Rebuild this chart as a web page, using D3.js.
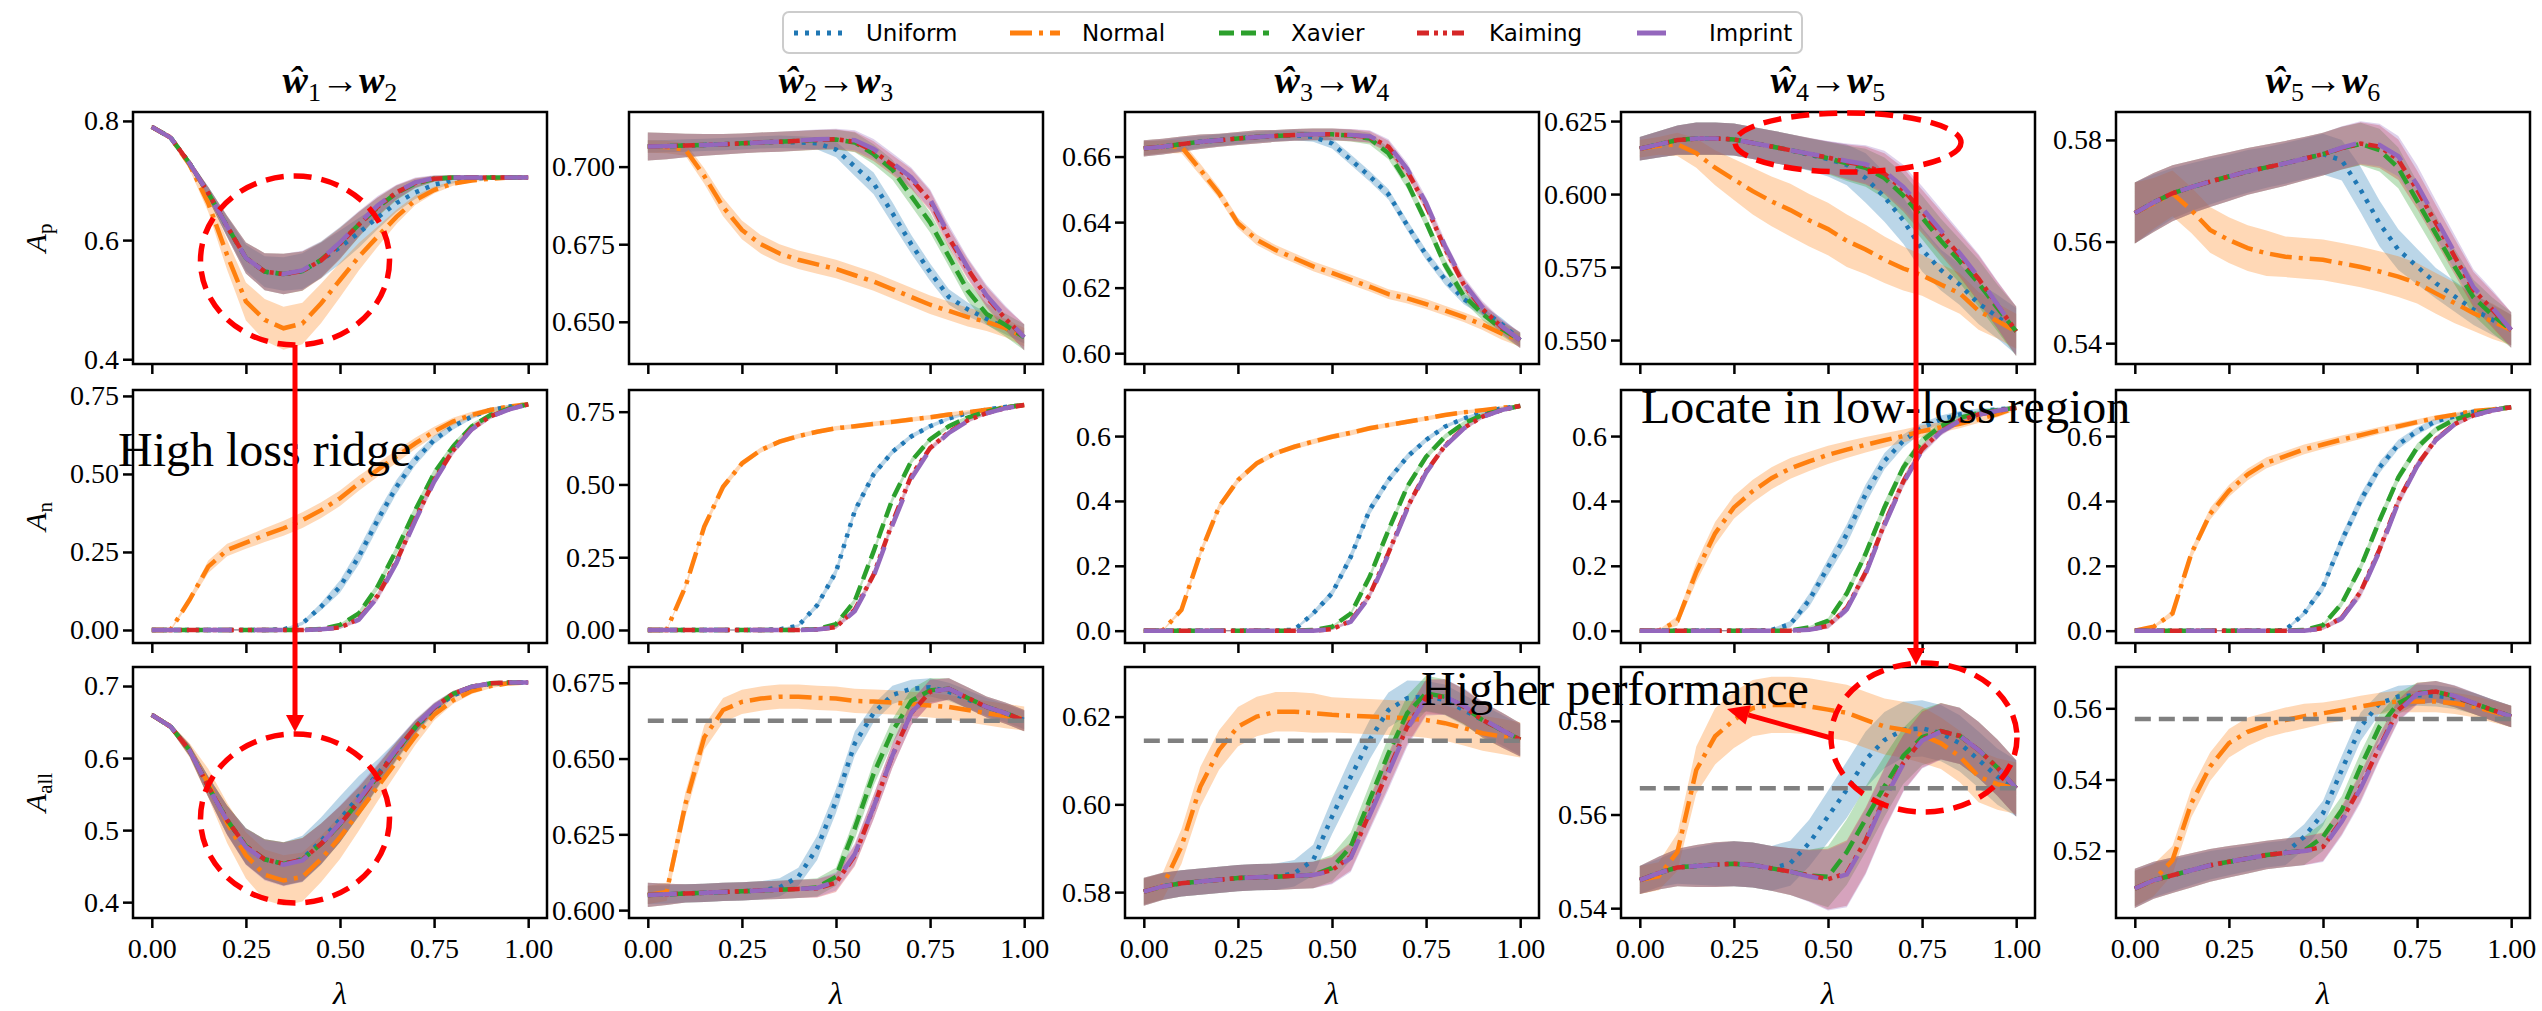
<!DOCTYPE html>
<html><head><meta charset="utf-8">
<script src="https://cdn.jsdelivr.net/npm/d3@7"></script>
<style>body{margin:0;background:#fff}svg{display:block}</style>
</head><body><svg id="c" width="2542" height="1011"></svg>
<script>
// ---------------- DATA ----------------
const lam = [0,0.05,0.1,0.15,0.2,0.25,0.3,0.35,0.4,0.45,0.5,0.55,0.6,0.65,0.7,0.75,0.8,0.85,0.9,0.95,1];
const methods = ["Uniform","Normal","Xavier","Kaiming","Imprint"];
const titleIdx = [["1","2"],["2","3"],["3","4"],["4","5"],["5","6"]];
const rowLabelSubs = ["p","n","all"];
const xTicks = [0,0.25,0.5,0.75,1];
const xTickLabels = ["0.00","0.25","0.50","0.75","1.00"];

const yTicksR1 = [[0.4,0.6,0.8],[0.65,0.675,0.7],[0.6,0.62,0.64,0.66],[0.55,0.575,0.6,0.625],[0.54,0.56,0.58]];
const yLabelsR1 = [["0.4","0.6","0.8"],["0.650","0.675","0.700"],["0.60","0.62","0.64","0.66"],["0.550","0.575","0.600","0.625"],["0.54","0.56","0.58"]];
const yTicksR2 = [[0,0.25,0.5,0.75],[0,0.25,0.5,0.75],[0,0.2,0.4,0.6],[0,0.2,0.4,0.6],[0,0.2,0.4,0.6]];
const yLabelsR2 = [["0.00","0.25","0.50","0.75"],["0.00","0.25","0.50","0.75"],["0.0","0.2","0.4","0.6"],["0.0","0.2","0.4","0.6"],["0.0","0.2","0.4","0.6"]];
const yTicksR3 = [[0.4,0.5,0.6,0.7],[0.6,0.625,0.65,0.675],[0.58,0.6,0.62],[0.54,0.56,0.58],[0.52,0.54,0.56]];
const yLabelsR3 = [["0.4","0.5","0.6","0.7"],["0.600","0.625","0.650","0.675"],["0.58","0.60","0.62"],["0.54","0.56","0.58"],["0.52","0.54","0.56"]];
const yLimR1 = [[0.392,0.815],[0.6364,0.7176],[0.5967,0.6736],[0.5418,0.6281],[0.5359,0.5855]];
const yLimR2 = [[-0.0417,0.769],[-0.0447,0.8245],[-0.038,0.742],[-0.038,0.742],[-0.038,0.742]];
const yLimR3 = [[0.378,0.7264],[0.5974,0.6802],[0.5741,0.6313],[0.5379,0.5915],[0.5011,0.5716]];
const refR3 = [null,0.6625,0.6145,0.5656,0.557];

// Row 1: A_p
const r1c1_U = [0.790,0.772,0.729,0.679,0.623,0.570,0.547,0.543,0.548,0.566,0.588,0.612,0.638,0.662,0.680,0.693,0.700,0.703,0.705,0.705,0.705];
const r1c1_N = [0.790,0.772,0.727,0.662,0.575,0.497,0.466,0.452,0.460,0.494,0.533,0.572,0.606,0.639,0.667,0.684,0.695,0.700,0.703,0.705,0.705];
const r1c1_X = [0.790,0.772,0.729,0.679,0.623,0.570,0.547,0.543,0.548,0.567,0.595,0.626,0.655,0.679,0.695,0.703,0.705,0.705,0.705,0.705,0.705];
const r1c1_K = [0.790,0.772,0.729,0.679,0.623,0.570,0.547,0.543,0.548,0.566,0.594,0.626,0.656,0.680,0.696,0.703,0.705,0.705,0.705,0.705,0.705];
const r1c1_I = [0.790,0.772,0.729,0.679,0.623,0.570,0.547,0.543,0.549,0.568,0.596,0.628,0.658,0.681,0.697,0.704,0.705,0.705,0.705,0.705,0.705];
const sd_r1c1_U = [0.003,0.004,0.006,0.010,0.016,0.022,0.026,0.028,0.030,0.030,0.028,0.025,0.020,0.015,0.011,0.008,0.005,0.003,0.002,0.002,0.002];
const sd_r1c1_N = [0.003,0.004,0.008,0.015,0.025,0.032,0.035,0.036,0.035,0.033,0.029,0.023,0.017,0.012,0.008,0.006,0.004,0.003,0.002,0.002,0.002];
const sd_r1c1_XKI = [0.003,0.004,0.006,0.010,0.018,0.026,0.031,0.034,0.033,0.030,0.026,0.021,0.016,0.012,0.008,0.005,0.004,0.003,0.002,0.002,0.002];

const r1c2_U = [0.7065,0.7066,0.7068,0.707,0.7072,0.7075,0.7078,0.708,0.7078,0.7075,0.7055,0.700,0.6946,0.685,0.675,0.666,0.658,0.654,0.651,0.648,0.645];
const r1c2_N = [0.7065,0.7063,0.7055,0.697,0.687,0.6796,0.675,0.672,0.670,0.6685,0.667,0.665,0.663,0.6605,0.658,0.6555,0.6535,0.6515,0.650,0.648,0.645];
const r1c2_X = [0.7065,0.7066,0.7068,0.707,0.7072,0.7075,0.7078,0.708,0.7083,0.7086,0.7087,0.7078,0.704,0.699,0.6905,0.682,0.671,0.660,0.6525,0.649,0.645];
const r1c2_K = [0.7065,0.7066,0.7068,0.707,0.7072,0.7075,0.7078,0.708,0.7083,0.7086,0.7088,0.708,0.705,0.7005,0.696,0.689,0.677,0.667,0.658,0.651,0.645];
const r1c2_I = [0.7065,0.7066,0.7068,0.707,0.7072,0.7075,0.7078,0.708,0.7084,0.7088,0.709,0.7085,0.7057,0.7012,0.6965,0.6895,0.678,0.6675,0.6585,0.6515,0.645];
const sd_r1c2_U = [0.002,0.002,0.002,0.002,0.002,0.002,0.002,0.002,0.002,0.002,0.0025,0.003,0.0035,0.0035,0.003,0.0028,0.0025,0.0022,0.002,0.002,0.002];
const sd_r1c2_N = [0.002,0.002,0.002,0.0025,0.003,0.003,0.003,0.003,0.003,0.003,0.003,0.003,0.003,0.003,0.003,0.003,0.003,0.003,0.003,0.003,0.003];
const sd_r1c2_XKI = [0.0045,0.0042,0.0038,0.0035,0.0033,0.0032,0.0032,0.0032,0.0032,0.0032,0.0032,0.0032,0.0032,0.0032,0.0032,0.0032,0.0032,0.0032,0.0034,0.0037,0.0042];

const r1c3_U = [0.6625,0.663,0.6638,0.6645,0.665,0.6655,0.666,0.6663,0.6665,0.666,0.664,0.659,0.654,0.6485,0.639,0.630,0.6225,0.6165,0.613,0.609,0.604];
const r1c3_N = [0.6625,0.663,0.663,0.656,0.6488,0.6397,0.6346,0.6315,0.629,0.6265,0.6245,0.6224,0.6203,0.618,0.6167,0.615,0.613,0.611,0.6087,0.606,0.604];
const r1c3_X = [0.6625,0.663,0.6638,0.6645,0.665,0.6655,0.666,0.6663,0.6666,0.6668,0.6668,0.6664,0.6655,0.661,0.652,0.640,0.627,0.6175,0.612,0.6075,0.604];
const r1c3_K = [0.6625,0.663,0.6638,0.6645,0.665,0.6655,0.666,0.6663,0.6666,0.6668,0.6668,0.6665,0.666,0.663,0.6555,0.645,0.632,0.621,0.6135,0.608,0.604];
const r1c3_I = [0.6625,0.663,0.6638,0.6645,0.665,0.6655,0.666,0.6663,0.6666,0.6668,0.6668,0.6666,0.6662,0.6635,0.6562,0.6458,0.6328,0.6215,0.614,0.6083,0.604];
const sd_r1c3_U = [0.0022,0.002,0.002,0.0018,0.0018,0.0017,0.0016,0.0016,0.0015,0.0015,0.0015,0.0016,0.0016,0.0016,0.0016,0.0016,0.0016,0.0016,0.0016,0.0018,0.002];
const sd_r1c3_N = [0.0022,0.002,0.002,0.0018,0.0017,0.0016,0.0016,0.0015,0.0015,0.0015,0.0015,0.0015,0.0015,0.0015,0.0015,0.0015,0.0015,0.0015,0.0016,0.0018,0.002];
const sd_r1c3_XKI = [0.0025,0.0024,0.0023,0.0022,0.002,0.002,0.002,0.0018,0.0018,0.0018,0.0018,0.0018,0.0018,0.0018,0.0018,0.0018,0.0018,0.0018,0.0019,0.0021,0.0024];

const r1c4_U = [0.6155,0.617,0.6185,0.619,0.619,0.6187,0.6175,0.6163,0.615,0.6135,0.612,0.610,0.6055,0.599,0.591,0.581,0.574,0.569,0.5625,0.558,0.553];
const r1c4_N = [0.6155,0.6165,0.617,0.614,0.609,0.605,0.601,0.5975,0.5945,0.591,0.588,0.584,0.581,0.5775,0.5745,0.5722,0.569,0.566,0.560,0.5565,0.553];
const r1c4_X = [0.6155,0.617,0.6185,0.619,0.619,0.6187,0.6175,0.6163,0.615,0.6137,0.6123,0.6105,0.609,0.6055,0.5995,0.592,0.584,0.577,0.5695,0.561,0.553];
const r1c4_K = [0.6155,0.617,0.6185,0.619,0.619,0.6187,0.6175,0.6163,0.615,0.6137,0.6125,0.611,0.6098,0.607,0.6015,0.594,0.5865,0.579,0.571,0.562,0.553];
const r1c4_I = [0.6155,0.617,0.6185,0.619,0.619,0.6187,0.6175,0.6163,0.615,0.6138,0.6127,0.6113,0.6102,0.6078,0.6025,0.5952,0.5875,0.5798,0.5715,0.5622,0.553];
const sd_r1c4_U = [0.004,0.0045,0.005,0.0055,0.0055,0.0055,0.0055,0.0055,0.0055,0.0055,0.006,0.007,0.0085,0.0085,0.008,0.0075,0.007,0.007,0.007,0.0075,0.008];
const sd_r1c4_N = [0.003,0.003,0.004,0.005,0.006,0.007,0.008,0.0085,0.009,0.009,0.009,0.009,0.0085,0.008,0.0075,0.007,0.007,0.007,0.0065,0.006,0.006];
const sd_r1c4_XKI = [0.004,0.0045,0.005,0.0055,0.0055,0.0055,0.0055,0.0055,0.0055,0.0055,0.0055,0.006,0.0065,0.007,0.0075,0.0075,0.0075,0.0075,0.008,0.008,0.0085];

const r1c5_U = [0.5656,0.5677,0.5695,0.5707,0.5718,0.5728,0.5738,0.5746,0.5754,0.5763,0.5772,0.576,0.5702,0.5636,0.5584,0.5551,0.5518,0.5492,0.5466,0.5446,0.5426];
const r1c5_N = [0.5656,0.5675,0.5695,0.5662,0.5623,0.5603,0.5587,0.5577,0.557,0.5567,0.5564,0.5557,0.555,0.5541,0.5531,0.5518,0.5498,0.5479,0.5459,0.5443,0.5426];
const r1c5_X = [0.5656,0.5677,0.5695,0.5707,0.5718,0.5728,0.5738,0.5746,0.5754,0.5763,0.5772,0.5784,0.5792,0.578,0.5745,0.568,0.5615,0.555,0.549,0.5455,0.5426];
const r1c5_K = [0.5656,0.5677,0.5695,0.5707,0.5718,0.5728,0.5738,0.5746,0.5754,0.5763,0.5772,0.5784,0.5793,0.5787,0.5761,0.5702,0.5636,0.557,0.5505,0.5466,0.5426];
const r1c5_I = [0.5656,0.5677,0.5695,0.5707,0.5718,0.5728,0.5738,0.5746,0.5754,0.5763,0.5772,0.5785,0.5795,0.579,0.5768,0.5712,0.5645,0.5578,0.551,0.547,0.5426];
const sd_r1c5_U = [0.006,0.0055,0.005,0.0047,0.0045,0.0043,0.0042,0.004,0.004,0.004,0.004,0.004,0.0045,0.0045,0.004,0.0035,0.003,0.003,0.003,0.003,0.003];
const sd_r1c5_N = [0.006,0.005,0.0045,0.0045,0.0045,0.0045,0.0045,0.0045,0.004,0.004,0.004,0.004,0.004,0.004,0.004,0.004,0.004,0.004,0.0035,0.0035,0.003];
const sd_r1c5_XKI = [0.006,0.0058,0.0055,0.0052,0.005,0.0048,0.0046,0.0045,0.0044,0.0043,0.0042,0.0042,0.0042,0.0042,0.004,0.0038,0.0036,0.0035,0.0035,0.0035,0.0035];

// Row 2: A_n
const r2c1_U = [0,0,0,0,0,0,0,0.002,0.021,0.075,0.139,0.235,0.352,0.459,0.545,0.609,0.652,0.684,0.705,0.716,0.723];
const r2c1_N = [0,0,0.096,0.203,0.256,0.28,0.304,0.326,0.352,0.384,0.422,0.47,0.513,0.556,0.598,0.636,0.668,0.689,0.705,0.716,0.723];
const r2c1_X = [0,0,0,0,0,0,0,0,0,0.003,0.016,0.053,0.139,0.256,0.384,0.502,0.587,0.652,0.689,0.71,0.723];
const r2c1_K = [0,0,0,0,0,0,0,0,0,0.002,0.008,0.035,0.11,0.22,0.355,0.48,0.575,0.645,0.685,0.708,0.723];
const r2c1_I = [0,0,0,0,0,0,0,0,0,0.002,0.007,0.033,0.105,0.215,0.35,0.475,0.572,0.643,0.684,0.707,0.723];
const sd_r2c1_U = [0.002,0.002,0.002,0.002,0.002,0.002,0.002,0.003,0.006,0.012,0.02,0.025,0.025,0.022,0.018,0.014,0.01,0.008,0.006,0.005,0.004];
const sd_r2c1_N = [0.002,0.003,0.01,0.02,0.02,0.02,0.022,0.024,0.025,0.025,0.025,0.024,0.022,0.02,0.018,0.015,0.012,0.01,0.008,0.006,0.005];
const sd_r2c1_XKI = [0.002,0.002,0.002,0.002,0.002,0.002,0.002,0.002,0.002,0.002,0.004,0.008,0.012,0.014,0.015,0.014,0.012,0.01,0.008,0.006,0.005];

const r2c2_U = [0,0,0,0,0,0,0,0.002,0.015,0.085,0.2,0.41,0.535,0.612,0.665,0.70,0.727,0.745,0.757,0.766,0.773];
const r2c2_N = [0,0,0.149,0.355,0.492,0.572,0.618,0.647,0.666,0.681,0.693,0.700,0.708,0.715,0.723,0.731,0.740,0.748,0.757,0.765,0.773];
const r2c2_X = [0,0,0,0,0,0,0,0,0,0.003,0.02,0.1,0.27,0.45,0.58,0.655,0.70,0.73,0.75,0.765,0.773];
const r2c2_K = [0,0,0,0,0,0,0,0,0,0.002,0.01,0.07,0.19,0.37,0.53,0.625,0.68,0.72,0.745,0.762,0.773];
const r2c2_I = [0,0,0,0,0,0,0,0,0,0.002,0.009,0.065,0.185,0.36,0.52,0.62,0.677,0.718,0.744,0.762,0.773];
const sd_r2c2_U = [0.002,0.002,0.002,0.002,0.002,0.002,0.002,0.002,0.005,0.01,0.015,0.015,0.012,0.01,0.008,0.007,0.006,0.005,0.005,0.005,0.004];
const sd_r2c2_N = [0.002,0.002,0.01,0.012,0.012,0.01,0.009,0.008,0.008,0.008,0.008,0.008,0.008,0.008,0.008,0.008,0.008,0.007,0.006,0.005,0.005];
const sd_r2c2_XKI = [0.002,0.002,0.002,0.002,0.002,0.002,0.002,0.002,0.002,0.003,0.006,0.01,0.012,0.012,0.01,0.008,0.007,0.006,0.005,0.005,0.004];

const r2c3_U = [0,0,0,0,0,0,0,0,0.003,0.053,0.115,0.228,0.372,0.464,0.536,0.588,0.629,0.654,0.673,0.685,0.693];
const r2c3_N = [0,0,0.064,0.238,0.382,0.464,0.516,0.547,0.567,0.583,0.598,0.61,0.624,0.634,0.644,0.654,0.665,0.673,0.68,0.687,0.693];
const r2c3_X = [0,0,0,0,0,0,0,0,0,0.002,0.012,0.053,0.166,0.31,0.444,0.536,0.598,0.639,0.665,0.68,0.693];
const r2c3_K = [0,0,0,0,0,0,0,0,0,0,0.005,0.03,0.11,0.24,0.38,0.49,0.57,0.625,0.66,0.68,0.693];
const r2c3_I = [0,0,0,0,0,0,0,0,0,0,0.004,0.028,0.105,0.235,0.375,0.487,0.568,0.623,0.659,0.68,0.693];
const sd_r2c3_U = [0.002,0.002,0.002,0.002,0.002,0.002,0.002,0.002,0.003,0.008,0.012,0.015,0.015,0.012,0.01,0.008,0.006,0.005,0.005,0.004,0.004];
const sd_r2c3_N = [0.002,0.002,0.008,0.012,0.012,0.01,0.009,0.008,0.008,0.008,0.008,0.008,0.008,0.007,0.007,0.007,0.006,0.006,0.005,0.005,0.004];
const sd_r2c3_XKI = [0.002,0.002,0.002,0.002,0.002,0.002,0.002,0.002,0.002,0.002,0.003,0.006,0.01,0.012,0.012,0.01,0.008,0.007,0.006,0.005,0.004];

const r2c4_U = [0,0,0,0,0,0,0,0.002,0.02,0.094,0.196,0.298,0.421,0.523,0.585,0.626,0.651,0.667,0.677,0.682,0.687];
const r2c4_N = [0,0,0.03,0.18,0.3,0.38,0.43,0.47,0.5,0.522,0.542,0.558,0.573,0.587,0.6,0.615,0.627,0.638,0.652,0.668,0.687];
const r2c4_X = [0,0,0,0,0,0,0,0,0,0.01,0.03,0.115,0.237,0.38,0.503,0.585,0.631,0.656,0.671,0.68,0.687];
const r2c4_K = [0,0,0,0,0,0,0,0,0,0.003,0.015,0.07,0.18,0.33,0.46,0.56,0.615,0.648,0.667,0.678,0.687];
const r2c4_I = [0,0,0,0,0,0,0,0,0,0.003,0.013,0.066,0.175,0.325,0.456,0.556,0.613,0.647,0.666,0.678,0.687];
const sd_r2c4_U = [0.002,0.002,0.002,0.002,0.002,0.002,0.002,0.004,0.01,0.02,0.025,0.03,0.03,0.025,0.02,0.015,0.012,0.01,0.008,0.006,0.005];
const sd_r2c4_N = [0.002,0.003,0.015,0.03,0.035,0.035,0.035,0.034,0.032,0.03,0.028,0.026,0.024,0.022,0.02,0.018,0.016,0.014,0.012,0.01,0.008];
const sd_r2c4_XKI = [0.002,0.002,0.002,0.002,0.002,0.002,0.002,0.002,0.002,0.004,0.008,0.012,0.016,0.018,0.016,0.014,0.012,0.01,0.008,0.006,0.005];

const r2c5_U = [0,0,0,0,0,0,0,0,0.002,0.053,0.135,0.278,0.401,0.503,0.574,0.615,0.646,0.661,0.675,0.682,0.689];
const r2c5_N = [0,0.012,0.053,0.237,0.36,0.431,0.482,0.518,0.538,0.559,0.574,0.589,0.603,0.617,0.63,0.643,0.656,0.666,0.677,0.682,0.689];
const r2c5_X = [0,0,0,0,0,0,0,0,0,0.002,0.017,0.084,0.196,0.339,0.472,0.564,0.62,0.651,0.669,0.681,0.689];
const r2c5_K = [0,0,0,0,0,0,0,0,0,0,0.008,0.04,0.12,0.25,0.40,0.51,0.59,0.637,0.664,0.679,0.689];
const r2c5_I = [0,0,0,0,0,0,0,0,0,0,0.007,0.038,0.115,0.245,0.395,0.507,0.588,0.636,0.663,0.679,0.689];
const sd_r2c5_U = [0.002,0.002,0.002,0.002,0.002,0.002,0.002,0.002,0.003,0.008,0.015,0.02,0.02,0.018,0.015,0.012,0.01,0.008,0.006,0.005,0.005];
const sd_r2c5_N = [0.002,0.004,0.01,0.015,0.018,0.018,0.018,0.017,0.016,0.015,0.014,0.013,0.012,0.011,0.01,0.009,0.008,0.007,0.006,0.005,0.005];
const sd_r2c5_XKI = [0.002,0.002,0.002,0.002,0.002,0.002,0.002,0.002,0.002,0.003,0.005,0.01,0.014,0.016,0.015,0.013,0.01,0.008,0.006,0.005,0.004];

// Row 3: A_all
const r3c1_U = [0.66,0.6436,0.611,0.5604,0.514,0.4777,0.4594,0.4532,0.46,0.485,0.515,0.547,0.578,0.61,0.642,0.668,0.687,0.697,0.703,0.705,0.705];
const r3c1_N = [0.66,0.6436,0.611,0.565,0.51,0.465,0.438,0.43,0.435,0.46,0.49,0.525,0.56,0.595,0.63,0.66,0.68,0.693,0.70,0.704,0.705];
const r3c1_X = [0.66,0.6436,0.611,0.5604,0.514,0.4777,0.4594,0.4532,0.459,0.481,0.508,0.54,0.575,0.61,0.643,0.67,0.689,0.699,0.7037,0.705,0.705];
const r3c1_K = [0.66,0.6436,0.611,0.5604,0.514,0.4777,0.4594,0.4532,0.459,0.481,0.508,0.54,0.575,0.61,0.643,0.67,0.689,0.699,0.7037,0.705,0.705];
const r3c1_I = [0.66,0.6436,0.611,0.56,0.513,0.4765,0.458,0.452,0.458,0.481,0.509,0.542,0.577,0.612,0.645,0.671,0.689,0.699,0.7037,0.705,0.705];
const sd_r3c1_U = [0.003,0.004,0.008,0.014,0.02,0.025,0.028,0.03,0.032,0.033,0.032,0.028,0.02,0.014,0.01,0.007,0.004,0.003,0.002,0.002,0.002];
const sd_r3c1_N = [0.003,0.004,0.01,0.02,0.028,0.032,0.035,0.035,0.034,0.032,0.03,0.026,0.02,0.016,0.012,0.008,0.005,0.004,0.003,0.002,0.002];
const sd_r3c1_XKI = [0.003,0.004,0.008,0.014,0.02,0.025,0.028,0.03,0.03,0.028,0.025,0.02,0.015,0.012,0.009,0.006,0.004,0.003,0.002,0.002,0.002];

const r3c2_U = [0.605,0.6052,0.6055,0.6057,0.606,0.6062,0.6065,0.6075,0.611,0.6205,0.636,0.655,0.665,0.671,0.673,0.6735,0.672,0.6695,0.667,0.665,0.6627];
const r3c2_N = [0.605,0.606,0.635,0.657,0.666,0.6687,0.6698,0.6704,0.6704,0.670,0.6698,0.669,0.6688,0.6685,0.668,0.6675,0.667,0.666,0.665,0.664,0.6632];
const r3c2_X = [0.605,0.6052,0.6055,0.6057,0.606,0.6062,0.6065,0.6067,0.607,0.6075,0.611,0.627,0.645,0.659,0.669,0.6725,0.673,0.670,0.667,0.665,0.6625];
const r3c2_K = [0.605,0.6052,0.6055,0.6057,0.606,0.6062,0.6065,0.6067,0.607,0.6072,0.609,0.618,0.634,0.651,0.665,0.672,0.673,0.670,0.667,0.665,0.6625];
const r3c2_I = [0.605,0.6052,0.6055,0.6057,0.606,0.6062,0.6065,0.6067,0.607,0.6073,0.6095,0.6185,0.634,0.651,0.665,0.672,0.673,0.670,0.667,0.665,0.6625];
const sd_r3c2_U = [0.003,0.003,0.003,0.003,0.003,0.003,0.003,0.003,0.003,0.004,0.004,0.004,0.003,0.003,0.003,0.003,0.003,0.003,0.003,0.003,0.003];
const sd_r3c2_N = [0.003,0.003,0.004,0.004,0.004,0.004,0.004,0.004,0.004,0.004,0.004,0.004,0.004,0.004,0.004,0.004,0.004,0.004,0.004,0.004,0.004];
const sd_r3c2_XKI = [0.004,0.0035,0.003,0.003,0.003,0.003,0.003,0.003,0.003,0.003,0.003,0.0035,0.004,0.004,0.004,0.004,0.0035,0.0035,0.0035,0.0035,0.0035];

const r3c3_U = [0.5801,0.5813,0.582,0.5824,0.5828,0.5832,0.5834,0.5835,0.5843,0.5873,0.5972,0.6063,0.6147,0.6215,0.6242,0.6246,0.6238,0.6215,0.6192,0.617,0.6147];
const r3c3_N = [0.5801,0.5813,0.5904,0.604,0.6124,0.6177,0.62,0.6211,0.6211,0.6208,0.6204,0.6202,0.62,0.6198,0.6196,0.6192,0.6185,0.6174,0.6162,0.6155,0.6147];
const r3c3_X = [0.5801,0.5813,0.582,0.5824,0.5828,0.5832,0.5834,0.5835,0.5837,0.5839,0.5855,0.5904,0.601,0.6116,0.6208,0.6253,0.6245,0.6223,0.6192,0.617,0.6147];
const r3c3_K = [0.5801,0.5813,0.582,0.5824,0.5828,0.5832,0.5834,0.5835,0.5837,0.5839,0.585,0.5881,0.598,0.6078,0.6177,0.6245,0.6245,0.6223,0.6192,0.617,0.6147];
const r3c3_I = [0.5801,0.5813,0.582,0.5824,0.5828,0.5832,0.5834,0.5835,0.5837,0.5839,0.5848,0.5878,0.5975,0.6072,0.6172,0.6242,0.6245,0.6225,0.6195,0.617,0.6147];
const sd_r3c3_U = [0.003,0.003,0.003,0.003,0.003,0.003,0.003,0.003,0.003,0.0035,0.004,0.0045,0.0045,0.004,0.004,0.0035,0.0035,0.0035,0.0035,0.0035,0.0035];
const sd_r3c3_N = [0.003,0.003,0.004,0.0045,0.0045,0.0045,0.0045,0.0045,0.0045,0.0045,0.004,0.004,0.004,0.004,0.004,0.004,0.004,0.004,0.004,0.004,0.004];
const sd_r3c3_XKI = [0.0032,0.0031,0.003,0.003,0.003,0.003,0.003,0.003,0.003,0.003,0.003,0.0032,0.0035,0.0038,0.004,0.004,0.004,0.004,0.004,0.004,0.0038];

const r3c4_U = [0.546,0.5475,0.5487,0.549,0.5493,0.5495,0.5492,0.5485,0.5496,0.5539,0.5596,0.5653,0.5717,0.5759,0.5781,0.5784,0.5774,0.5752,0.5717,0.5681,0.5656];
const r3c4_N = [0.546,0.5468,0.552,0.5695,0.5767,0.5802,0.5827,0.5834,0.5834,0.5831,0.5824,0.5817,0.5802,0.5788,0.5781,0.577,0.5752,0.5724,0.5681,0.5665,0.5656];
const r3c4_X = [0.546,0.5475,0.5487,0.549,0.5493,0.5495,0.5492,0.5485,0.5478,0.547,0.5467,0.552,0.559,0.566,0.5725,0.5765,0.5778,0.5768,0.5738,0.570,0.5656];
const r3c4_K = [0.546,0.5475,0.5487,0.549,0.5493,0.5495,0.5492,0.5485,0.5478,0.547,0.5462,0.5475,0.5545,0.5635,0.571,0.576,0.5778,0.5768,0.5738,0.570,0.5656];
const r3c4_I = [0.546,0.5475,0.5487,0.549,0.5493,0.5495,0.5492,0.5485,0.5478,0.5468,0.546,0.5472,0.5542,0.5632,0.5708,0.5758,0.5777,0.5768,0.5738,0.570,0.5656];
const sd_r3c4_U = [0.003,0.003,0.0035,0.004,0.0045,0.0048,0.0048,0.0048,0.0048,0.005,0.0055,0.006,0.006,0.006,0.006,0.006,0.006,0.006,0.006,0.006,0.006];
const sd_r3c4_N = [0.003,0.003,0.004,0.005,0.006,0.006,0.006,0.006,0.006,0.006,0.006,0.006,0.006,0.006,0.006,0.006,0.0055,0.0055,0.0055,0.0055,0.0055];
const sd_r3c4_XKI = [0.003,0.0035,0.004,0.0045,0.0048,0.0048,0.0048,0.0048,0.005,0.0055,0.0065,0.007,0.007,0.0065,0.006,0.006,0.006,0.006,0.006,0.006,0.006];

const r3c5_U = [0.5094,0.5117,0.5131,0.5145,0.5159,0.5169,0.5178,0.5188,0.5194,0.5239,0.5305,0.5427,0.5548,0.5614,0.5633,0.5637,0.5635,0.5628,0.5614,0.5595,0.5577];
const r3c5_N = [0.5094,0.5117,0.5173,0.5333,0.5436,0.5502,0.5534,0.5553,0.5567,0.5578,0.5586,0.5595,0.5605,0.5614,0.5619,0.5619,0.5619,0.5614,0.5605,0.5591,0.5577];
const r3c5_X = [0.5094,0.5117,0.5131,0.5145,0.5159,0.5169,0.5178,0.5188,0.5194,0.52,0.5239,0.5314,0.5436,0.5548,0.5614,0.5642,0.5647,0.5633,0.5614,0.5595,0.5577];
const r3c5_K = [0.5094,0.5117,0.5131,0.5145,0.5159,0.5169,0.5178,0.5188,0.5194,0.52,0.5211,0.5286,0.538,0.5492,0.5595,0.5642,0.5647,0.5633,0.5614,0.5595,0.5577];
const r3c5_I = [0.5094,0.5117,0.5131,0.5145,0.5159,0.5169,0.5178,0.5188,0.5194,0.5199,0.5208,0.5282,0.5375,0.5488,0.5592,0.564,0.5647,0.5635,0.5615,0.5595,0.5577];
const sd_r3c5_U = [0.005,0.0048,0.0045,0.0042,0.004,0.0038,0.0036,0.0035,0.0035,0.0035,0.0035,0.004,0.004,0.003,0.003,0.003,0.003,0.003,0.003,0.003,0.003];
const sd_r3c5_N = [0.005,0.0045,0.004,0.004,0.004,0.004,0.004,0.0035,0.0035,0.0035,0.003,0.003,0.003,0.003,0.003,0.003,0.003,0.003,0.003,0.003,0.003];
const sd_r3c5_XKI = [0.0055,0.0052,0.005,0.0048,0.0046,0.0044,0.0042,0.004,0.004,0.004,0.004,0.004,0.004,0.0035,0.003,0.003,0.003,0.003,0.003,0.003,0.003];

// ---------------- TABLE ----------------
const rows = [
  {sub:"p", lims:yLimR1, ticks:yTicksR1, labels:yLabelsR1, ref:[null,null,null,null,null], panels:[
    [[r1c1_U,r1c1_N,r1c1_X,r1c1_K,r1c1_I],[sd_r1c1_U,sd_r1c1_N,sd_r1c1_XKI,sd_r1c1_XKI,sd_r1c1_XKI]],
    [[r1c2_U,r1c2_N,r1c2_X,r1c2_K,r1c2_I],[sd_r1c2_U,sd_r1c2_N,sd_r1c2_XKI,sd_r1c2_XKI,sd_r1c2_XKI]],
    [[r1c3_U,r1c3_N,r1c3_X,r1c3_K,r1c3_I],[sd_r1c3_U,sd_r1c3_N,sd_r1c3_XKI,sd_r1c3_XKI,sd_r1c3_XKI]],
    [[r1c4_U,r1c4_N,r1c4_X,r1c4_K,r1c4_I],[sd_r1c4_U,sd_r1c4_N,sd_r1c4_XKI,sd_r1c4_XKI,sd_r1c4_XKI]],
    [[r1c5_U,r1c5_N,r1c5_X,r1c5_K,r1c5_I],[sd_r1c5_U,sd_r1c5_N,sd_r1c5_XKI,sd_r1c5_XKI,sd_r1c5_XKI]]]},
  {sub:"n", lims:yLimR2, ticks:yTicksR2, labels:yLabelsR2, ref:[null,null,null,null,null], panels:[
    [[r2c1_U,r2c1_N,r2c1_X,r2c1_K,r2c1_I],[sd_r2c1_U,sd_r2c1_N,sd_r2c1_XKI,sd_r2c1_XKI,sd_r2c1_XKI]],
    [[r2c2_U,r2c2_N,r2c2_X,r2c2_K,r2c2_I],[sd_r2c2_U,sd_r2c2_N,sd_r2c2_XKI,sd_r2c2_XKI,sd_r2c2_XKI]],
    [[r2c3_U,r2c3_N,r2c3_X,r2c3_K,r2c3_I],[sd_r2c3_U,sd_r2c3_N,sd_r2c3_XKI,sd_r2c3_XKI,sd_r2c3_XKI]],
    [[r2c4_U,r2c4_N,r2c4_X,r2c4_K,r2c4_I],[sd_r2c4_U,sd_r2c4_N,sd_r2c4_XKI,sd_r2c4_XKI,sd_r2c4_XKI]],
    [[r2c5_U,r2c5_N,r2c5_X,r2c5_K,r2c5_I],[sd_r2c5_U,sd_r2c5_N,sd_r2c5_XKI,sd_r2c5_XKI,sd_r2c5_XKI]]]},
  {sub:"all", lims:yLimR3, ticks:yTicksR3, labels:yLabelsR3, ref:refR3, panels:[
    [[r3c1_U,r3c1_N,r3c1_X,r3c1_K,r3c1_I],[sd_r3c1_U,sd_r3c1_N,sd_r3c1_XKI,sd_r3c1_XKI,sd_r3c1_XKI]],
    [[r3c2_U,r3c2_N,r3c2_X,r3c2_K,r3c2_I],[sd_r3c2_U,sd_r3c2_N,sd_r3c2_XKI,sd_r3c2_XKI,sd_r3c2_XKI]],
    [[r3c3_U,r3c3_N,r3c3_X,r3c3_K,r3c3_I],[sd_r3c3_U,sd_r3c3_N,sd_r3c3_XKI,sd_r3c3_XKI,sd_r3c3_XKI]],
    [[r3c4_U,r3c4_N,r3c4_X,r3c4_K,r3c4_I],[sd_r3c4_U,sd_r3c4_N,sd_r3c4_XKI,sd_r3c4_XKI,sd_r3c4_XKI]],
    [[r3c5_U,r3c5_N,r3c5_X,r3c5_K,r3c5_I],[sd_r3c5_U,sd_r3c5_N,sd_r3c5_XKI,sd_r3c5_XKI,sd_r3c5_XKI]]]}
];

// ---------------- STYLE / LAYOUT ----------------
const colors = ["#1f77b4","#ff7f0e","#2ca02c","#d62728","#9467bd"];
const dashes = ["4,7","22,7,4,7","15,7","12,5,4,5,4,5","29,22"];
const SERIF = "'Liberation Serif','DejaVu Serif',serif";
const SANS = "'DejaVu Sans','Liberation Sans',sans-serif";
const colX = [133,629,1125,1621,2116];
const PW = 414;
const rowY = [[112,364],[390,643],[667,918]];

const svg = d3.select("#c");
const defs = svg.append("defs");

rows.forEach((row, r) => {
  const [top, bot] = rowY[r];
  const yl = svg.append("text")
    .attr("transform", `translate(46,${(top+bot)/2}) rotate(-90)`)
    .attr("text-anchor","middle").attr("font-family",SERIF).attr("font-size",30);
  yl.append("tspan").text("A").attr("font-style","italic");
  yl.append("tspan").text(row.sub).attr("dy",6).attr("font-size",21);

  row.panels.forEach((pd, c) => {
    const [means, sds] = pd;
    const left = colX[c];
    const x = d3.scaleLinear().domain([-0.05,1.05]).range([left, left+PW]);
    const y = d3.scaleLinear().domain(row.lims[c]).range([bot, top]);
    const cid = `clip${r}_${c}`;
    defs.append("clipPath").attr("id",cid).append("rect")
      .attr("x",left).attr("y",top).attr("width",PW).attr("height",bot-top);
    const g = svg.append("g").attr("clip-path",`url(#${cid})`);

    const area = d3.area().x((d,i)=>x(lam[i])).y0(d=>y(d[0]-d[1])).y1(d=>y(d[0]+d[1]));
    const line = d3.line().x((d,i)=>x(lam[i])).y(d=>y(d));

    means.forEach((m, k) => {
      g.append("path").datum(m.map((v,i)=>[v, sds[k][i]]))
        .attr("d", area).attr("fill", colors[k]).attr("fill-opacity", 0.3).attr("stroke","none");
    });
    means.forEach((m, k) => {
      g.append("path").datum(m).attr("d", line)
        .attr("fill","none").attr("stroke",colors[k]).attr("stroke-width",4.5)
        .attr("stroke-dasharray",dashes[k]);
    });
    if (row.ref[c] !== null) {
      g.append("line").attr("x1",x(0)).attr("x2",x(1))
        .attr("y1",y(row.ref[c])).attr("y2",y(row.ref[c]))
        .attr("stroke","#808080").attr("stroke-width",4.5).attr("stroke-dasharray","16,8");
    }

    const ya = svg.append("g").attr("transform",`translate(${left},0)`)
      .call(d3.axisLeft(y).tickValues(row.ticks[c]).tickFormat((d,i)=>row.labels[c][i]).tickSize(10).tickPadding(4))
      .attr("font-family",SERIF).attr("font-size",28);
    ya.select(".domain").remove();
    ya.selectAll(".tick line").attr("stroke","#000").attr("stroke-width",2.5);
    ya.selectAll(".tick text").attr("fill","#000").attr("font-family",SERIF).attr("font-size",28);

    const xa = svg.append("g").attr("transform",`translate(0,${bot})`)
      .call(d3.axisBottom(x).tickValues(xTicks).tickFormat((d,i)=> r===2 ? xTickLabels[i] : "").tickSize(10).tickPadding(10))
      .attr("font-family",SERIF).attr("font-size",28);
    xa.select(".domain").remove();
    xa.selectAll(".tick line").attr("stroke","#000").attr("stroke-width",2.5);
    xa.selectAll(".tick text").attr("fill","#000").attr("font-family",SERIF).attr("font-size",28);

    svg.append("rect").attr("x",left).attr("y",top).attr("width",PW).attr("height",bot-top)
      .attr("fill","none").attr("stroke","#000").attr("stroke-width",2.5);

    if (r === 0) {
      const t = svg.append("text").attr("x",left+PW/2).attr("y",93).attr("text-anchor","middle")
        .attr("font-family",SERIF).attr("font-size",38);
      t.append("tspan").text("\u0175").attr("font-weight","bold").attr("font-style","italic");
      t.append("tspan").text(titleIdx[c][0]).attr("dy",8).attr("font-size",26);
      t.append("tspan").text("\u2192").attr("dy",-8);
      t.append("tspan").text("w").attr("font-weight","bold").attr("font-style","italic");
      t.append("tspan").text(titleIdx[c][1]).attr("dy",8).attr("font-size",26);
    }
    if (r === 2) {
      svg.append("text").attr("x",left+PW/2).attr("y",1004).attr("text-anchor","middle")
        .attr("font-family",SERIF).attr("font-size",32).attr("font-style","italic").text("\u03bb");
    }
  });
});

// ---------------- LEGEND ----------------
const leg = svg.append("g");
leg.append("rect").attr("x",783).attr("y",12).attr("width",1019).attr("height",41).attr("rx",6)
  .attr("fill","#fff").attr("stroke","#cccccc").attr("stroke-width",2);
const legX = [794,1010,1219,1417,1637];
methods.forEach((m,k)=>{
  leg.append("line").attr("x1",legX[k]).attr("x2",legX[k]+50).attr("y1",33).attr("y2",33)
    .attr("stroke",colors[k]).attr("stroke-width",5).attr("stroke-dasharray",dashes[k]);
  leg.append("text").attr("x",legX[k]+72).attr("y",41).text(m)
    .attr("font-family",SANS).attr("font-size",23).attr("fill","#000");
});

// ---------------- ANNOTATIONS ----------------
const RED = "#ff0000";
const ann = svg.append("g");
const txt = (x,yy,s)=>ann.append("text").attr("x",x).attr("y",yy).text(s)
  .attr("font-family",SERIF).attr("font-size",48).attr("fill","#000");
txt(118,466,"High loss ridge");
txt(1641,423,"Locate in low-loss region");
txt(1421,705,"Higher performance");

const ell = (cx,cy,rx,ry)=>ann.append("ellipse").attr("cx",cx).attr("cy",cy).attr("rx",rx).attr("ry",ry)
  .attr("fill","none").attr("stroke",RED).attr("stroke-width",5.5).attr("stroke-dasharray","18,10");
ell(295,260.5,94.5,84.5);
ell(295,818.5,94.5,84.5);
ell(1848,142.5,113,29.5);
ell(1924,737.5,93,74.5);

function arrow(x1,y1,x2,y2,hl,hw){
  const dx=x2-x1, dy=y2-y1, L=Math.hypot(dx,dy), ux=dx/L, uy=dy/L;
  const bx=x2-ux*hl, by=y2-uy*hl;
  ann.append("line").attr("x1",x1).attr("y1",y1).attr("x2",bx).attr("y2",by)
    .attr("stroke",RED).attr("stroke-width",5);
  ann.append("polygon").attr("points",[[x2,y2],[bx-uy*hw,by+ux*hw],[bx+uy*hw,by-ux*hw]].map(p=>p.join(",")).join(" "))
    .attr("fill",RED);
}
arrow(295,345,295,732,17,9);
arrow(1916,172,1916,665,17,9);
arrow(1831,738,1727,709,22,10);
</script>
</body></html>
